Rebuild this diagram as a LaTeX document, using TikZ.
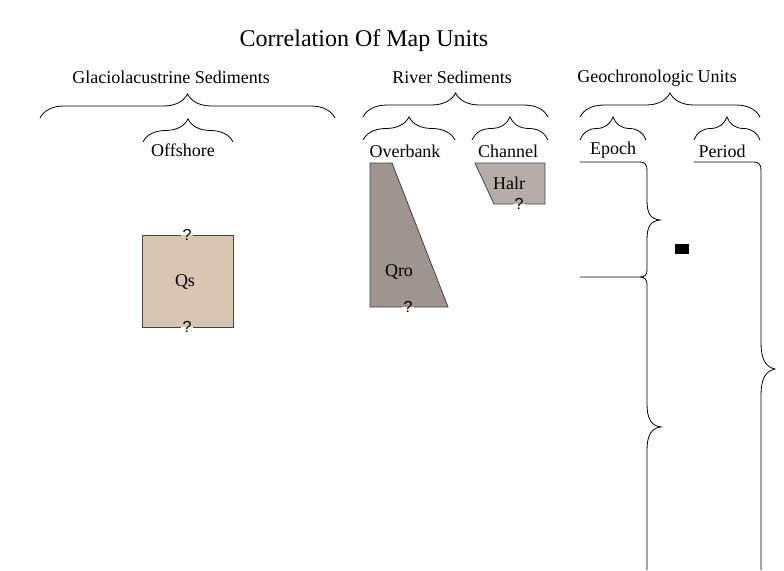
\documentclass[tikz,border=0pt]{standalone}
\usepackage{fontspec}
\setmainfont{Liberation Serif}
\setsansfont{Liberation Sans}
\usetikzlibrary{decorations.pathreplacing}
\definecolor{qscol}{RGB}{214,198,178}
\definecolor{qrocol}{RGB}{158,149,144}
\definecolor{halrcol}{RGB}{182,172,168}
\definecolor{edgecol}{RGB}{70,66,64}
\tikzset{
 groupbrace/.style={decorate,decoration={brace,amplitude=24pt},line width=.8pt},
 subbrace/.style={decorate,decoration={brace,amplitude=23pt},line width=.8pt},
 colbrace/.style={line width=.8pt},
 maptitle/.style={font=\fontsize{24}{28}\selectfont,anchor=base,inner sep=0},
 heading/.style={font=\fontsize{18}{21}\selectfont,anchor=base,inner sep=0},
 unitlabel/.style={font=\fontsize{18}{21}\selectfont,inner sep=0},
 query/.style={font=\sffamily\fontsize{16}{19}\selectfont,inner sep=1.5pt},
 unitedge/.style={draw=edgecol,line width=.8pt}
}

\begin{document}
\begin{tikzpicture}[x=1pt,y=-1pt]
\useasboundingbox (0,0) rectangle (784,570);
\node[maptitle] (title) at (364,46) {Correlation Of Map Units};
% group headings
\node[heading] (glac) at (171,83) {Glaciolacustrine Sediments};
\node[heading] (river) at (452,83) {River Sediments};
\node[heading] (geo) at (657,82) {Geochronologic Units};
\node[heading] (offshore) at (183,156) {Offshore};
\node[heading] (overbank) at (405,157) {Overbank};
\node[heading] (channel) at (508,157) {Channel};
\node[heading] (epoch) at (613,154) {Epoch};
\node[heading] (period) at (722,157) {Period};
% braces
\coordinate (glacL) at (40,118);
\coordinate (glacR) at (335,118);
\draw[groupbrace] (glacL) -- (glacR);
\coordinate (offL) at (143,142);
\coordinate (offR) at (233,142);
\draw[subbrace] (offL) -- (offR);
\coordinate (riverL) at (363,117);
\coordinate (riverR) at (548,117);
\draw[groupbrace] (riverL) -- (riverR);
\coordinate (overL) at (363,140);
\coordinate (overR) at (455,140);
\draw[subbrace] (overL) -- (overR);
\coordinate (chanL) at (472,140);
\coordinate (chanR) at (548,140);
\draw[subbrace] (chanL) -- (chanR);
\coordinate (geoL) at (580,117);
\coordinate (geoR) at (760,117);
\draw[groupbrace] (geoL) -- (geoR);
\coordinate (epochL) at (580,140);
\coordinate (epochR) at (646,140);
\draw[subbrace] (epochL) -- (epochR);
\coordinate (perL) at (694,140);
\coordinate (perR) at (760,140);
\draw[subbrace] (perL) -- (perR);
% Qs
\coordinate (qsNW) at (142,235);
\coordinate (qsNE) at (233,235);
\coordinate (qsSE) at (233,327);
\coordinate (qsSW) at (142,327);
\fill[qscol] (qsNW) rectangle (qsSE);
\node[query] (qstop) at (187,235) {?};
\node[query] (qsbot) at (187,327) {?};
\draw[unitedge] (qstop.west) -- (qsNW) -- (qsSW) -- (qsbot.west);
\draw[unitedge] (qstop.east) -- (qsNE) -- (qsSE) -- (qsbot.east);
\node[unitlabel] (qs) at (185,282) {Qs};
% Qro
\coordinate (qroNW) at (370,163);
\coordinate (qroNE) at (392,163);
\coordinate (qroSE) at (448,307);
\coordinate (qroSW) at (370,307);
\fill[qrocol] (qroNW) -- (qroNE) -- (qroSE) -- (qroSW) -- cycle;
\node[query] (qrobot) at (408,307) {?};
\draw[unitedge] (qrobot.west) -- (qroSW) -- (qroNW) -- (qroNE) -- (qroSE) -- (qrobot.east);
\node[unitlabel] (qro) at (399,272) {Qro};
% Halr
\coordinate (halrNW) at (475,163);
\coordinate (halrNE) at (545,163);
\coordinate (halrSE) at (545,204);
\coordinate (halrSW) at (494,204);
\fill[halrcol] (halrNW) -- (halrNE) -- (halrSE) -- (halrSW) -- cycle;
\node[query] (halrbot) at (519,204) {?};
\draw[unitedge] (halrbot.west) -- (halrSW) -- (halrNW) -- (halrNE) -- (halrSE) -- (halrbot.east);
\node[unitlabel] (halr) at (509,183) {Halr};
% time columns
\draw[colbrace] (580,162) -- (640,162) .. controls (645,162) and (647,165) .. (647,170)
  -- (647,200) .. controls (647,213) and (650,219) .. (660,220)
  .. controls (650,221) and (647,227) .. (647,240)
  -- (647,270) .. controls (647,275) and (645,277) .. (640,277) -- (580,277);
\draw[colbrace] (640,277) .. controls (645,277) and (647,280) .. (647,285)
  -- (647,404) .. controls (647,418) and (651,426) .. (661,427)
  .. controls (651,428) and (647,436) .. (647,450) -- (647,570);
\draw[colbrace] (694,162) -- (754,162) .. controls (759,162) and (761,165) .. (761,170)
  -- (761,343) .. controls (761,358) and (765,367) .. (775,369)
  .. controls (765,371) and (761,380) .. (761,395) -- (761,570);
\node[fill=black,minimum width=14pt,minimum height=10pt,inner sep=0] (quat) at (682,249) {};
\end{tikzpicture}
\end{document}
